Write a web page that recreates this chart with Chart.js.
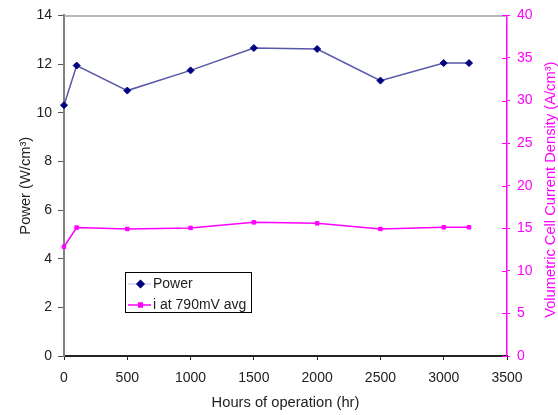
<!DOCTYPE html>
<html>
<head>
<meta charset="utf-8">
<script src="https://cdn.jsdelivr.net/npm/chart.js@4"></script>
<style>
  html, body { margin: 0; padding: 0; background: #fff; }
  #wrap { width: 558px; height: 415px; }
</style>
</head>
<body>
<div id="wrap"><canvas id="c" width="558" height="415"></canvas></div>
<script>
// Operating hours at which the stack was measured
const hours = [0, 100, 500, 1000, 1500, 2000, 2500, 3000, 3200];
// Power density, W/cm³ (left axis)
const powerValues = [10.31, 11.94, 10.91, 11.74, 12.66, 12.62, 11.32, 12.04, 12.04];
// Volumetric cell current density at 790 mV, A/cm³ (right axis)
const currentValues = [12.83, 15.08, 14.92, 15.04, 15.70, 15.58, 14.92, 15.12, 15.12];

// Axis tick values
const hourTicks = [0, 500, 1000, 1500, 2000, 2500, 3000, 3500];
const powerTicks = [0, 2, 4, 6, 8, 10, 12, 14];
const currentTicks = [0, 5, 10, 15, 20, 25, 30, 35, 40];

// Text
const seriesNames = ['Power', 'i at 790mV avg'];
const xTitle = 'Hours of operation (hr)';
const leftTitle = 'Power (W/cm³)';
const rightTitle = 'Volumetric Cell Current Density (A/cm³)';

const FONT = '"Liberation Sans", Arial, sans-serif';
const NAVY = '#000080';
const POWER_LINE = '#5858a8';
const MAGENTA = '#ff00ff';
const TEXT = '#222222';

const toPoints = (xs, ys) => xs.map((x, i) => ({ x: x, y: ys[i] }));
const useTicks = (values) => (scale) => { scale.ticks = values.map(v => ({ value: v })); };
const plainNumber = (v) => String(v);

// Plot frame top line, inner half of the right-axis tick marks,
// the right-axis title (reading upward) and the boxed legend.
const decorations = {
  id: 'decorations',
  afterDraw(chart) {
    const ctx = chart.ctx;
    const area = chart.chartArea;
    const yr = chart.scales.y2;

    ctx.save();
    // top edge of the plot frame
    ctx.strokeStyle = '#a0a0a0';
    ctx.lineWidth = 1.5;
    ctx.beginPath();
    ctx.moveTo(area.left, area.top + 0.5);
    ctx.lineTo(area.right, area.top + 0.5);
    ctx.stroke();

    // right axis ticks reach into the plot as well
    ctx.strokeStyle = MAGENTA;
    ctx.lineWidth = 1;
    yr.ticks.forEach(t => {
      const y = Math.round(yr.getPixelForValue(t.value)) + 0.5;
      ctx.beginPath();
      ctx.moveTo(area.right - 5, y);
      ctx.lineTo(area.right, y);
      ctx.stroke();
    });

    // right axis title, rotated to read bottom-to-top
    ctx.fillStyle = MAGENTA;
    ctx.font = '14.7px ' + FONT;
    ctx.textAlign = 'center';
    ctx.textBaseline = 'middle';
    ctx.translate(yr.right - 7, (yr.top + yr.bottom) / 2 + 4);
    ctx.rotate(-Math.PI / 2);
    ctx.fillText(rightTitle, 0, 0);
    ctx.restore();

    // legend box
    const bx = 125.5, by = 272.5, bw = 126, bh = 40;
    ctx.save();
    ctx.fillStyle = '#ffffff';
    ctx.fillRect(bx, by, bw, bh);
    ctx.strokeStyle = '#000000';
    ctx.lineWidth = 1;
    ctx.strokeRect(bx, by, bw, bh);

    const rows = [
      { y: 284, line: '#d4d4e8', ds: chart.data.datasets[0] },
      { y: 305, line: MAGENTA, ds: chart.data.datasets[1] }
    ];
    rows.forEach((r, i) => {
      ctx.strokeStyle = r.line;
      ctx.lineWidth = 1.5;
      ctx.beginPath();
      ctx.moveTo(128, r.y);
      ctx.lineTo(151, r.y);
      ctx.stroke();
      Chart.helpers.drawPoint(ctx, {
        pointStyle: r.ds.pointStyle,
        radius: r.ds.pointRadius,
        borderWidth: 1
      }, 140.5, r.y);
      ctx.fillStyle = r.ds.pointBackgroundColor;
      ctx.strokeStyle = r.ds.pointBorderColor;
      ctx.fill();
      ctx.stroke();
      ctx.fillStyle = TEXT;
      ctx.font = '14px ' + FONT;
      ctx.textAlign = 'left';
      ctx.textBaseline = 'middle';
      ctx.fillText(seriesNames[i], 153, r.y);
    });
    ctx.restore();
  }
};

new Chart(document.getElementById('c'), {
  type: 'scatter',
  data: {
    datasets: [
      {
        label: seriesNames[0],
        data: toPoints(hours, powerValues),
        yAxisID: 'y',
        showLine: true,
        borderColor: POWER_LINE,
        borderWidth: 1.5,
        pointStyle: 'rectRot',
        pointRadius: 3.5,
        pointBackgroundColor: NAVY,
        pointBorderColor: NAVY,
        pointBorderWidth: 1,
        clip: false
      },
      {
        label: seriesNames[1],
        data: toPoints(hours, currentValues),
        yAxisID: 'y2',
        showLine: true,
        borderColor: MAGENTA,
        borderWidth: 1.5,
        pointStyle: 'rect',
        pointRadius: 2.5,
        pointBackgroundColor: MAGENTA,
        pointBorderColor: MAGENTA,
        pointBorderWidth: 1,
        clip: false
      }
    ]
  },
  options: {
    responsive: false,
    devicePixelRatio: 1,
    animation: false,
    layout: { padding: { top: 11, left: 0, right: 0, bottom: 0 } },
    plugins: {
      legend: { display: false },
      tooltip: { enabled: false }
    },
    scales: {
      x: {
        type: 'linear',
        position: 'bottom',
        min: 0,
        max: 3500,
        afterBuildTicks: useTicks(hourTicks),
        afterFit(s) { s.height = 59; },
        grid: { display: true, drawOnChartArea: false, drawTicks: true, tickLength: 4, tickColor: TEXT },
        border: { display: true, color: TEXT, width: 2 },
        ticks: { color: TEXT, font: { family: FONT, size: 14 }, padding: 10, maxRotation: 0, callback: plainNumber },
        title: { display: true, text: xTitle, color: TEXT, font: { family: FONT, size: 14.7 }, padding: { top: 0, bottom: 3 } }
      },
      y: {
        type: 'linear',
        position: 'left',
        min: 0,
        max: 14,
        afterBuildTicks: useTicks(powerTicks),
        afterFit(s) { s.width = 64; },
        grid: { display: true, drawOnChartArea: false, drawTicks: true, tickLength: 6, tickColor: '#555555' },
        border: { display: true, color: '#808080', width: 2 },
        ticks: { color: TEXT, font: { family: FONT, size: 14 }, padding: 6, callback: plainNumber },
        title: { display: true, text: leftTitle, color: TEXT, font: { family: FONT, size: 14.7 }, padding: { top: 17, bottom: 0 } }
      },
      y2: {
        type: 'linear',
        position: 'right',
        min: 0,
        max: 40,
        afterBuildTicks: useTicks(currentTicks),
        afterFit(s) { s.width = 51; },
        grid: { display: true, drawOnChartArea: false, drawTicks: true, tickLength: 3, tickColor: MAGENTA },
        border: { display: true, color: MAGENTA, width: 1.5 },
        ticks: { color: MAGENTA, font: { family: FONT, size: 14 }, padding: 7, callback: plainNumber }
      }
    }
  },
  plugins: [decorations]
});
</script>
</body>
</html>
